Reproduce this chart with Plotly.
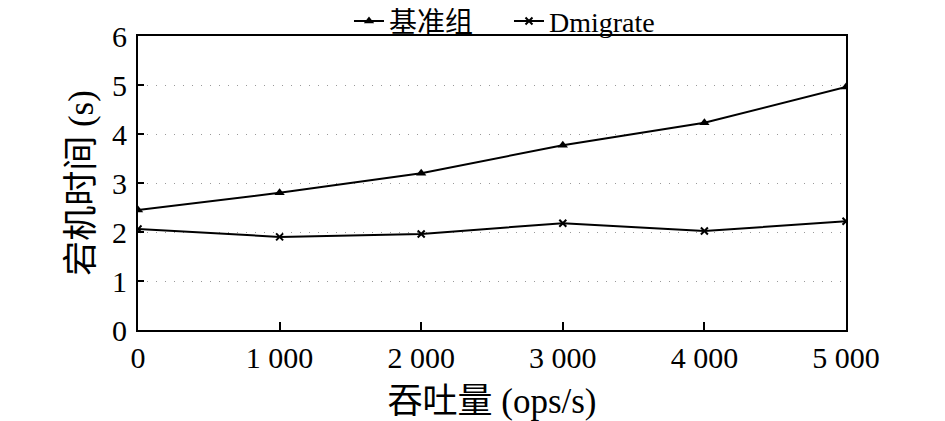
import plotly.graph_objects as go

# throughput (ops/s) vs downtime (s)
throughput = [0, 1000, 2000, 3000, 4000, 5000]
tick_labels = ["0", "1 000", "2 000", "3 000", "4 000", "5 000"]
baseline = [2.45, 2.8, 3.2, 3.77, 4.23, 4.96]
dmigrate = [2.06, 1.9, 1.96, 2.18, 2.02, 2.22]

FONT = "Liberation Serif, Times New Roman, Noto Sans CJK SC, serif"

fig = go.Figure()
fig.add_trace(go.Scatter(
    x=throughput, y=baseline, name="基准组",
    mode="lines+markers",
    line=dict(color="black", width=2),
    marker=dict(symbol="triangle-up", size=9, color="black"),
))
fig.add_trace(go.Scatter(
    x=throughput, y=dmigrate, name="Dmigrate",
    mode="lines+markers",
    line=dict(color="black", width=2),
    marker=dict(symbol="x-thin", size=7, color="black",
                line=dict(color="black", width=2)),
))

# page body adds an 8px margin, so the figure is sized 8px smaller
fig.update_layout(
    width=937, height=413,
    margin=dict(l=130, r=99, t=28, b=91, autoexpand=False),
    paper_bgcolor="white", plot_bgcolor="white",
    font=dict(family=FONT, size=29, color="black"),
    showlegend=True,
    legend=dict(orientation="h", x=0.524, xanchor="center", y=1.05, yanchor="middle",
                font=dict(size=28), bgcolor="rgba(0,0,0,0)",
                itemwidth=30, tracegroupgap=0, entrywidth=115),
    xaxis=dict(
        range=[0, 5000], tickvals=throughput, ticktext=tick_labels,
        tickfont=dict(size=30),
        ticks="inside", ticklen=8, tickcolor="black", tickwidth=2,
        showline=True, linecolor="black", linewidth=2, mirror=True,
        showgrid=False, zeroline=False, automargin=False,
        title=dict(text="吞吐量 (ops/s)", standoff=20),
    ),
    yaxis=dict(
        range=[0, 6], dtick=1, tickfont=dict(size=30), ticklabelstandoff=3,
        ticks="inside", ticklen=6, tickcolor="black", tickwidth=2,
        showline=True, linecolor="black", linewidth=2, mirror=True,
        showgrid=True, gridcolor="#999999", griddash="1px,8px", gridwidth=1,
        zeroline=False, automargin=False,
        title=dict(text="宕机时间 (s)", standoff=8),
    ),
)

fig.write_html("out.html")
